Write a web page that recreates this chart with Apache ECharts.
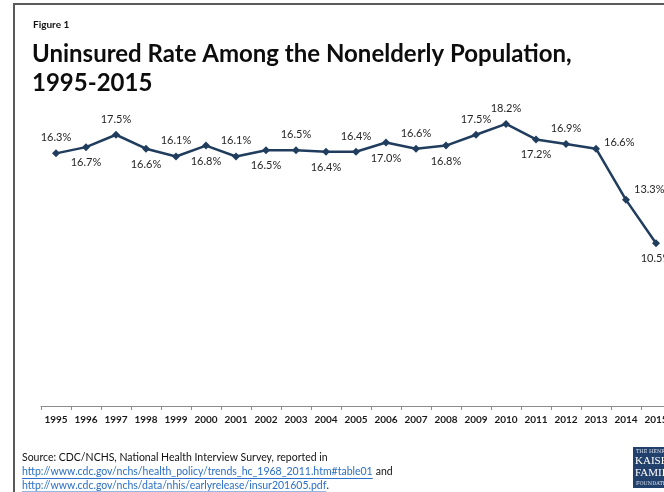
<!DOCTYPE html>
<html>
<head>
<meta charset="utf-8">
<script src="https://cdn.jsdelivr.net/npm/echarts@6/dist/echarts.min.js"></script>
<style>
html, body { margin: 0; padding: 0; background: #fff; overflow: hidden; width: 664px; height: 492px; }
#main { width: 672px; height: 492px; }
</style>
</head>
<body>
<div id="main"></div>
<script>
var years = ['1995', '1996', '1997', '1998', '1999', '2000', '2001', '2002', '2003', '2004',
  '2005', '2006', '2007', '2008', '2009', '2010', '2011', '2012', '2013', '2014', '2015'];
var uninsured = [16.3, 16.7, 17.5, 16.6, 16.1, 16.8, 16.1, 16.5, 16.5, 16.4,
  16.4, 17.0, 16.6, 16.8, 17.5, 18.2, 17.2, 16.9, 16.6, 13.3, 10.5];
// where each data label sits, as in the original figure
var labelSide = ['top', 'bottom', 'top', 'bottom', 'top', 'bottom', 'top', 'bottom', 'top', 'bottom',
  'top', 'bottom', 'top', 'bottom', 'top', 'top', 'bottom', 'top', 'right', 'right', 'bottom'];

var sourceLine = 'Source: CDC/NCHS, National Health Interview Survey, reported in';
var link1 = 'http://www.cdc.gov/nchs/health_policy/trends_hc_1968_2011.htm#table01';
var link2 = 'http://www.cdc.gov/nchs/data/nhis/earlyrelease/insur201605.pdf';

var FONT = 'Lato, "Open Sans", sans-serif';
var NAVY = '#213d5e';

function textWidth(str, font) {
  var ctx = document.createElement('canvas').getContext('2d');
  ctx.font = font;
  return ctx.measureText(str).width;
}

var chart = echarts.init(document.getElementById('main'));

var points = uninsured.map(function (v, i) {
  var lab = { position: labelSide[i] };
  if (i === 18) lab.offset = [-2, -6];
  if (i === 19) lab.offset = [-2, -10];
  return { value: v, label: lab };
});

var srcFont = '10.5px ' + FONT;
var w1 = textWidth(link1, srcFont);
var w2 = textWidth(link2, srcFont);

var option = {
  backgroundColor: '#fff',
  title: [{
    text: 'Figure 1',
    left: 28,
    top: 15,
    textStyle: { fontFamily: FONT, fontSize: 10, fontWeight: 'bold', color: '#111' }
  }, {
    text: 'Uninsured Rate Among the Nonelderly Population,\n1995-2015',
    left: 27,
    top: 35,
    textStyle: { fontFamily: FONT, fontSize: 24, fontWeight: 'bold', color: '#0d0d0d', lineHeight: 29 }
  }],
  grid: { left: 41, right: 1, top: 96, bottom: 86 },
  xAxis: {
    type: 'category',
    data: years,
    boundaryGap: true,
    axisLine: { lineStyle: { color: '#8c8c8c', width: 1 } },
    axisTick: { show: true, length: 4, lineStyle: { color: '#8c8c8c' } },
    axisLabel: { fontFamily: FONT, fontSize: 10, fontWeight: 'bold', color: '#1a1a1a', margin: 9, interval: 0 }
  },
  yAxis: {
    type: 'value',
    min: 0,
    max: 20,
    show: false,
    splitLine: { show: false }
  },
  series: [{
    type: 'line',
    data: points,
    symbol: 'diamond',
    symbolSize: 8,
    itemStyle: { color: NAVY },
    lineStyle: { color: NAVY, width: 2.5 },
    label: {
      show: true,
      distance: 6,
      fontFamily: FONT,
      fontSize: 11,
      color: '#262626',
      formatter: function (p) { return p.value.toFixed(1) + '%'; }
    },
    animation: false
  }],
  graphic: [
    // figure frame
    { type: 'line', shape: { x1: 14, y1: 4, x2: 14, y2: 492 }, style: { stroke: '#5a5a5a', lineWidth: 2 } },
    { type: 'line', shape: { x1: 13, y1: 4, x2: 672, y2: 4 }, style: { stroke: '#5a5a5a', lineWidth: 2 } },
    // source note
    { type: 'text', left: 22, top: 452, style: { text: sourceLine, font: srcFont, fill: '#111' } },
    { type: 'text', left: 22, top: 466, style: { text: link1, font: srcFont, fill: '#2a6fc9' } },
    { type: 'text', left: 22 + w1 + 3, top: 466, style: { text: 'and', font: srcFont, fill: '#111' } },
    { type: 'line', shape: { x1: 22, y1: 478.5, x2: 22 + w1, y2: 478.5 }, style: { stroke: '#2a6fc9', lineWidth: 1 } },
    { type: 'text', left: 22, top: 480, style: { text: link2, font: srcFont, fill: '#2a6fc9' } },
    { type: 'text', left: 22 + w2, top: 480, style: { text: '.', font: srcFont, fill: '#111' } },
    { type: 'line', shape: { x1: 22, y1: 492, x2: 22 + w2, y2: 492 }, style: { stroke: '#2a6fc9', lineWidth: 1 } },
    // logo
    { type: 'rect', shape: { x: 633, y: 447, width: 40, height: 41 }, style: { fill: '#22406c' } },
    { type: 'text', x: 636, y: 449, style: { text: 'THE HENRY J.', font: '5px "DejaVu Serif", serif', fill: '#dfe6f0' } },
    { type: 'text', x: 635, y: 456, style: { text: 'KAISER', font: '11px "Liberation Serif", serif', fill: '#fff' } },
    { type: 'text', x: 635, y: 468, style: { text: 'FAMILY', font: '11px "Liberation Serif", serif', fill: '#fff' } },
    { type: 'text', x: 636, y: 481, style: { text: 'FOUNDATION', font: '5px "DejaVu Serif", serif', fill: '#dfe6f0' } }
  ]
};

chart.setOption(option);
</script>
</body>
</html>
